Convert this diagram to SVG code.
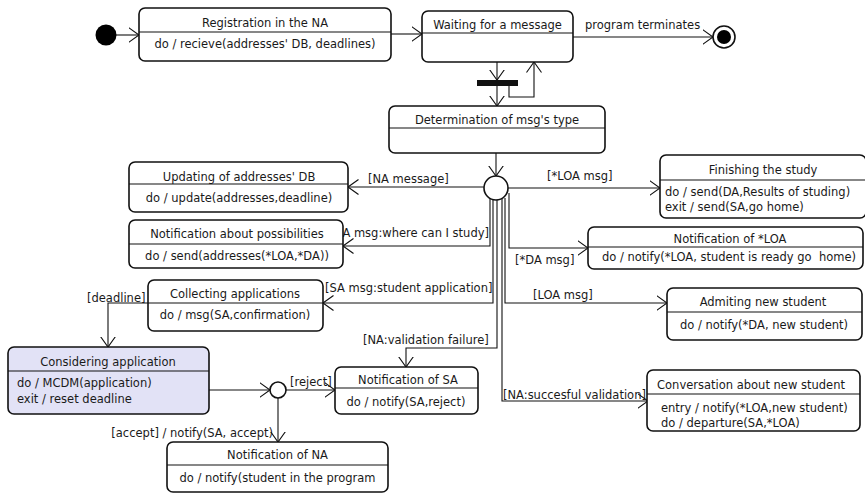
<svg xmlns="http://www.w3.org/2000/svg" width="865" height="494" viewBox="0 0 865 494">
<style>
text{font-family:"DejaVu Sans","Liberation Sans",sans-serif;font-size:11.5px;fill:#1a1a1a}
.c{text-anchor:middle}
.e{text-anchor:end}
.box{fill:#fff;stroke:#111;stroke-width:1.6}
.div{stroke:#111;stroke-width:1.2}
.ln{fill:none;stroke:#111;stroke-width:1.1;marker-end:url(#arr)}
.pl{fill:none;stroke:#111;stroke-width:1.1}
</style>
<defs>
<marker id="arr" viewBox="0 0 11 16" refX="10.5" refY="8" markerWidth="11" markerHeight="16" markerUnits="userSpaceOnUse" orient="auto">
<path d="M0,0.5 L10.5,8 L0,15.5" fill="none" stroke="#111" stroke-width="1.1"/>
</marker>
</defs>
<rect width="865" height="494" fill="#fff"/>
<g id="connectors">
<path class="ln" d="M116,35 L139,35"/>
<path class="ln" d="M391,34 L422,34"/>
<path class="ln" d="M573,37 L713,37"/>
<text x="585" y="29">program terminates</text>
<path class="ln" d="M497,62 L497,80"/>
<path class="ln" d="M497,86 L497,106"/>
<path class="ln" d="M509,86 V97 H534 V62"/>
<path class="ln" d="M496,153 L496,176"/>
<path class="ln" d="M484,187 L348,187"/>
<text x="368" y="183">[NA message]</text>
<text class="e" x="489" y="237">[SA msg:where can I study]</text>
<path class="ln" d="M490,197 V246 H343"/>
<path class="ln" d="M493,199 V303 H323"/>
<text x="325" y="292">[SA msg:student application]</text>
<path class="ln" d="M497,200 V348 H406 V367"/>
<text x="363" y="344">[NA:validation failure]</text>
<path class="ln" d="M502,199 V401 H648"/>
<text x="503" y="399">[NA:succesful validation]</text>
<path class="ln" d="M505,198 V303 H667"/>
<text x="533" y="299">[LOA msg]</text>
<path class="ln" d="M509,193 V248 H588"/>
<text x="515" y="264">[*DA msg]</text>
<path class="ln" d="M508,188 H660"/>
<text x="547" y="180">[*LOA msg]</text>
<path class="ln" d="M148,303 H108 V347"/>
<text x="87" y="302">[deadline]</text>
<path class="ln" d="M209,390 H270"/>
<path class="ln" d="M286,390 H335"/>
<text x="290" y="386">[reject]</text>
<path class="ln" d="M278,398 V442"/>
<text class="e" x="273" y="437">[accept] / notify(SA, accept)</text>
</g>
<g id="initial"><circle cx="106" cy="35" r="10.5" fill="#000"/></g>
<g id="final"><circle cx="724" cy="37" r="11" fill="#fff" stroke="#111" stroke-width="1.6"/><circle cx="724" cy="37" r="7" fill="#000"/></g>
<g id="fork"><rect x="477" y="80" width="41" height="6" fill="#111"/></g>
<g id="registration">
<rect class="box" x="139" y="8" width="252" height="53" rx="6"/>
<line class="div" x1="139" y1="32" x2="391" y2="32"/>
<text class="c" x="265" y="27">Registration in the NA</text>
<text class="c" x="265" y="48">do / recieve(addresses' DB, deadlines)</text>
</g>
<g id="waiting">
<rect class="box" x="422" y="11" width="151" height="51" rx="6"/>
<line class="div" x1="422" y1="33" x2="573" y2="33"/>
<text class="c" x="497.5" y="29">Waiting for a message</text>
</g>
<g id="determination">
<rect class="box" x="389" y="106" width="216" height="47" rx="6"/>
<line class="div" x1="389" y1="128" x2="605" y2="128"/>
<text class="c" x="497" y="124">Determination of msg's type</text>
</g>
<g id="decision"><circle cx="496" cy="188" r="12" fill="#fff" stroke="#111" stroke-width="1.6"/></g>
<g id="updating">
<rect class="box" x="129" y="162" width="219" height="50" rx="6"/>
<line class="div" x1="129" y1="184" x2="348" y2="184"/>
<text class="c" x="239" y="181">Updating of addresses' DB</text>
<text class="c" x="239" y="202">do / update(addresses,deadline)</text>
</g>
<g id="possibilities">
<rect class="box" x="129" y="220" width="214" height="48" rx="6"/>
<line class="div" x1="129" y1="244" x2="343" y2="244"/>
<text class="c" x="237" y="238">Notification about possibilities</text>
<text class="c" x="237" y="260">do / send(addresses(*LOA,*DA))</text>
</g>
<g id="finishing">
<rect class="box" x="660" y="155" width="206" height="63" rx="6"/>
<line class="div" x1="660" y1="180" x2="866" y2="180"/>
<text class="c" x="763" y="174">Finishing the study</text>
<text x="665" y="196">do / send(DA,Results of studing)</text>
<text x="665" y="211">exit / send(SA,go home)</text>
</g>
<g id="notif-loa">
<rect class="box" x="588" y="227" width="275" height="42" rx="6"/>
<line class="div" x1="588" y1="247" x2="863" y2="247"/>
<text class="c" x="730" y="243">Notification of *LOA</text>
<text class="c" x="729" y="261" xml:space="preserve">do / notify(*LOA, student is ready go  home)</text>
</g>
<g id="admiting">
<rect class="box" x="667" y="288" width="195" height="52" rx="6"/>
<line class="div" x1="667" y1="312" x2="862" y2="312"/>
<text class="c" x="763" y="306">Admiting new student</text>
<text class="c" x="764" y="329">do / notify(*DA, new student)</text>
</g>
<g id="conversation">
<rect class="box" x="647" y="370" width="213" height="61" rx="6"/>
<line class="div" x1="647" y1="394" x2="860" y2="394"/>
<text class="c" x="751" y="389">Conversation about new student</text>
<text x="661" y="412">entry / notify(*LOA,new student)</text>
<text x="661" y="427">do / departure(SA,*LOA)</text>
</g>
<g id="collecting">
<rect class="box" x="148" y="280" width="175" height="51" rx="6"/>
<line class="div" x1="148" y1="303" x2="323" y2="303"/>
<text class="c" x="235" y="298">Collecting applications</text>
<text class="c" x="235" y="319">do / msg(SA,confirmation)</text>
</g>
<g id="considering">
<rect class="box" x="8" y="347" width="201" height="67" rx="6" style="fill:#e2e2f6"/>
<line class="div" x1="8" y1="371" x2="209" y2="371"/>
<text class="c" x="108" y="366">Considering application</text>
<text x="17" y="387">do / MCDM(application)</text>
<text x="17" y="403">exit / reset deadline</text>
</g>
<g id="decision2"><circle cx="278" cy="390" r="8" fill="#fff" stroke="#111" stroke-width="1.6"/></g>
<g id="notif-sa">
<rect class="box" x="335" y="367" width="143" height="47" rx="6"/>
<line class="div" x1="335" y1="388" x2="478" y2="388"/>
<text class="c" x="408" y="384">Notification of SA</text>
<text class="c" x="406" y="406">do / notify(SA,reject)</text>
</g>
<g id="notif-na">
<rect class="box" x="167" y="442" width="221" height="50" rx="6"/>
<line class="div" x1="167" y1="465" x2="388" y2="465"/>
<text class="c" x="277.5" y="459">Notification of NA</text>
<text class="c" x="277.5" y="482">do / notify(student in the program</text>
</g>
</svg>
